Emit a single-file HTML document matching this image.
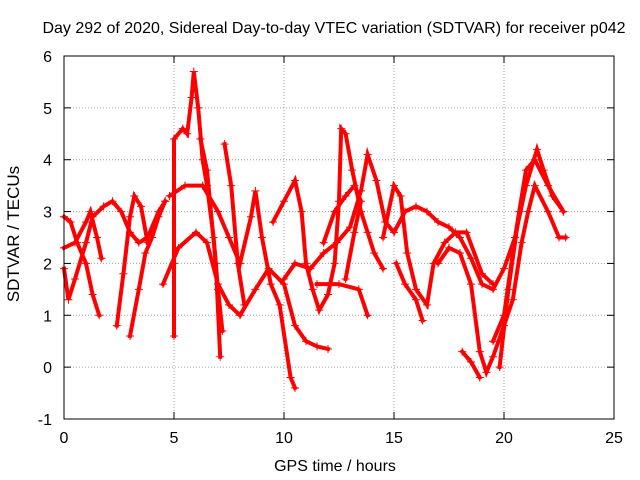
<!DOCTYPE html>
<html><head><meta charset="utf-8"><style>
body{margin:0;background:#fff;}
svg{display:block;font-family:"Liberation Sans",sans-serif;}
</style></head><body>
<svg id="chart" width="640" height="480" viewBox="0 0 640 480">
<rect width="640" height="480" fill="#fff"/>
<text x="334" y="33" font-size="16" text-anchor="middle">Day 292 of 2020, Sidereal Day-to-day VTEC variation (SDTVAR) for receiver p042</text>
<text x="335" y="471" font-size="16" text-anchor="middle">GPS time / hours</text>
<text x="19" y="234" font-size="17" text-anchor="middle" transform="rotate(-90 19 234)">SDTVAR / TECUs</text>
<g id="grid"></g>
<g id="series"></g>
<rect x="64" y="56" width="550" height="363" fill="none" stroke="#000" stroke-width="1"/>
</svg>
<script>
const xTicks=[0,5,10,15,20,25];
const yTicks=[-1,0,1,2,3,4,5,6];
const t1=[[0,2.9],[0.3,2.8],[0.6,2.4],[1.0,2.0],[1.3,1.4],[1.6,1.0]];
const t2=[[0,2.3],[0.5,2.4],[1.0,2.8],[1.2,3.0],[1.5,2.5],[1.7,2.1]];
const t3=[[0,1.9],[0.2,1.3],[0.5,1.7],[1.0,2.4],[1.3,2.9],[1.8,3.1],[2.2,3.2],[2.6,3.0],[3.0,2.6],[3.4,2.4],[3.8,2.5],[4.3,3.0],[4.6,3.2]];
const t4=[[2.4,0.8],[2.7,1.8],[3.0,2.9],[3.2,3.3],[3.5,3.1],[3.8,2.4]];
const t5=[[3.0,0.6],[3.4,1.5],[3.7,2.2],[4.0,2.5],[4.3,2.9],[4.6,3.2]];
const t6=[[5.0,0.6],[5.0,2.0],[5.0,4.4],[5.4,4.6],[5.6,4.5],[5.8,5.2],[5.9,5.7],[6.1,5.0],[6.3,4.0],[6.5,3.5],[6.8,2.5],[7.0,1.5],[7.2,0.7]];
const t7=[[6.2,4.4],[6.5,3.8],[6.9,2.0],[7.1,0.2]];
const t8=[[7.3,4.3],[7.6,3.5],[7.9,2.0],[8.2,1.2]];
const t9=[[4.8,3.3],[5.5,3.5],[6.3,3.5],[7.0,3.0],[7.5,2.5],[8.0,2.0],[8.5,2.9],[8.7,3.4],[9.0,2.5],[9.4,1.6],[9.8,1.2],[10.3,-0.2],[10.5,-0.4]];
const t10=[[4.5,1.6],[5.2,2.3],[6.0,2.6],[6.5,2.4],[7.0,1.6],[7.5,1.2],[8.0,1.0],[8.7,1.5],[9.3,1.9],[10.0,1.6],[10.5,0.8],[11.0,0.5],[11.5,0.4],[12.0,0.35]];
const t11=[[9.5,2.8],[10.0,3.2],[10.5,3.6],[10.8,3.0],[11.0,2.0],[11.3,1.5],[11.6,1.1],[12.0,1.4],[12.3,2.0],[12.5,3.2],[12.6,4.6],[12.8,4.5],[13.1,3.8],[13.5,3.0],[13.8,2.6],[14.1,2.2],[14.5,1.9]];
const t12=[[10.0,1.7],[10.5,2.0],[11.2,1.9],[11.8,2.2],[12.4,2.4],[13.0,2.7],[13.5,3.4],[13.8,4.1],[14.2,3.6],[14.6,2.8],[15.0,2.6],[15.5,3.0],[16.0,3.1],[16.5,3.0],[17.0,2.8],[17.5,2.7],[18.0,2.5],[18.5,2.1],[19.0,1.6],[19.5,1.5],[20.0,1.9],[20.5,2.5],[21.0,3.5],[21.5,4.2],[21.8,3.8],[22.2,3.3],[22.7,3.0]];
const t13=[[11.5,1.6],[12.5,1.6],[13.4,1.5],[13.8,1.0]];
const t14=[[11.8,2.4],[12.3,3.0],[12.8,3.3],[13.2,3.5],[13.5,3.2],[13.2,2.6],[12.8,1.7]];
const t15=[[14.5,2.5],[15.0,3.5],[15.3,3.3],[15.6,2.2],[16.0,1.5],[16.5,1.2],[16.8,2.0],[17.3,2.4],[17.8,2.6],[18.3,2.6],[19.0,1.8],[19.5,1.6]];
const t16=[[15.1,2.0],[15.5,1.6],[16.0,1.3],[16.3,0.9]];
const t17=[[17.0,2.0],[17.5,2.3],[18.0,2.2],[18.5,1.6],[18.9,0.3],[19.2,-0.1],[19.5,0.2],[20.0,0.8],[20.4,1.3],[20.8,2.4],[21.1,3.0],[21.4,3.5],[22.0,3.0],[22.5,2.5],[22.8,2.5]];
const t18=[[18.1,0.3],[18.5,0.1],[18.9,-0.2]];
const t19=[[19.5,0.5],[20.0,1.0],[20.5,2.5],[21.0,3.8],[21.4,4.0],[22.0,3.5],[22.7,3.0]];
const t20=[[19.8,0.0],[20.2,1.5],[20.7,3.0]];
const tracks=[t1,t2,t3,t4,t5,t6,t7,t8,t9,t10,t11,t12,t13,t14,t15,t16,t17,t18,t19,t20];

const X0=64,X1=614,Y0=419,Y1=56;
function sx(v){return X0+(v-0)/(25-0)*(X1-X0);}
function sy(v){return Y0-(v+1)/(6+1)*(Y0-Y1);}
const NS='http://www.w3.org/2000/svg';
const grid=document.getElementById('grid');
function mk(tag,attrs,parent){const e=document.createElementNS(NS,tag);for(const k in attrs)e.setAttribute(k,attrs[k]);parent.appendChild(e);return e;}
xTicks.forEach(t=>{
  const x=sx(t);
  if(t>0&&t<25){const g=mk('line',{x1:x,x2:x,y1:Y1,y2:Y0,stroke:'#a0a0a0','stroke-dasharray':'1,2'},grid);
  
  }
  mk('line',{x1:x,x2:x,y1:Y0,y2:Y0-7,stroke:'#000'},grid);
  mk('line',{x1:x,x2:x,y1:Y1,y2:Y1+7,stroke:'#000'},grid);
  const l=mk('text',{x:x,y:443,'font-size':16,'text-anchor':'middle'},grid);
  l.textContent=t;
  
  
});
yTicks.forEach(t=>{
  const y=sy(t);
  if(t>-1&&t<6){const g=mk('line',{x1:X0,x2:X1,y1:y,y2:y,stroke:'#a0a0a0','stroke-dasharray':'1,2'},grid);
  
  }
  mk('line',{x1:X0,x2:X0+7,y1:y,y2:y,stroke:'#000'},grid);
  mk('line',{x1:X1,x2:X1-7,y1:y,y2:y,stroke:'#000'},grid);
  const l=mk('text',{x:52,y:y+6,'font-size':16,'text-anchor':'end'},grid);
  l.textContent=t;
  
  
});
const ser=document.getElementById('series');
tracks.forEach((tr,i)=>{
  const pts=tr.map(p=>sx(p[0])+','+sy(p[1])).join(' ');
  const pl=mk('polyline',{points:pts,fill:'none',stroke:'#ff0000','stroke-width':4,'stroke-linejoin':'miter','stroke-linecap':'square'},ser);
  
  
  tr.forEach(p=>{
    const x=sx(p[0]),y=sy(p[1]);
    const m=mk('path',{d:`M${x-4},${y}H${x+4}M${x},${y-4}V${y+4}`,stroke:'#ff0000','stroke-width':1},ser);
    
    
  });
});
</script>
</body></html>
